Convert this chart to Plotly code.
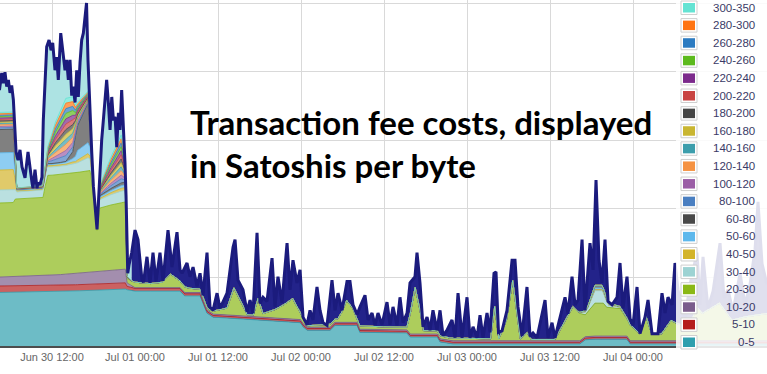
import plotly.graph_objects as go
import pandas as pd

# ---------------- data (hours since Jun 30 00:00, values in grid units) ----------------
labels = ["0-5", "5-10", "10-20", "20-30", "30-40", "40-50", "50-60", "60-80", "80-100",
          "100-120", "120-140", "140-160", "160-180", "180-200", "200-220", "220-240",
          "240-260", "260-280", "280-300", "300-350"]
colors = ["#2f9fae", "#b51d1d", "#7b5d8b", "#8ab816", "#9dd3d3", "#d3b42a", "#5db8ec", "#494949",
          "#4a7fc1", "#9b5ea6", "#f59242", "#3d9eac", "#c9b631", "#454545", "#c94442", "#7c2a8c",
          "#5cba1d", "#2c7bc1", "#ff7412", "#64e3d3"]

hours_base = [4.4, 12, 20, 22.6, 22.85, 24, 30.5, 31.2, 33.4, 34.4, 35.3, 42.1, 47.9, 48.3, 48.9,
              52.2, 52.9, 56.1, 56.5, 59.9, 63.3, 63.8, 67.7, 68.1, 69.5, 88.3, 89.1, 89.8, 95.1,
              95.6, 115.5]
fee_0_5 = [0.78, 0.79, 0.82, 0.83, 0.82, 0.80, 0.80, 0.73, 0.73, 0.48, 0.42, 0.38, 0.34, 0.28, 0.23,
           0.23, 0.30, 0.30, 0.20, 0.19, 0.19, 0.13, 0.13, 0.06, 0.03, 0.03, 0.09, 0.10, 0.10,
           0.03, 0.03]
fee_5_10 = [0.095, 0.09, 0.09, 0.09, 0.05, 0.04, 0.04, 0.03, 0.03, 0.025, 0.025, 0.025, 0.025, 0.025,
            0.025, 0.025, 0.025, 0.025, 0.025, 0.025, 0.025, 0.025, 0.025, 0.025, 0.025, 0.025,
            0.025, 0.025, 0.025, 0.025, 0.025]
fee_10_20 = [0.13, 0.15, 0.19, 0.20, 0.05, 0.01, 0.01, 0.02, 0.02, 0.02, 0.02, 0.02, 0.02, 0.02, 0.02,
             0.02, 0.02, 0.02, 0.02, 0.02, 0.02, 0.02, 0.02, 0.02, 0.02, 0.02, 0.02, 0.02, 0.02,
             0.02, 0.02]

hours_green = [4.4, 6.4, 6.7, 10.7, 11.3, 13.2, 16.0, 17.5, 17.95, 18.5, 18.9, 20.4, 22.6, 22.85,
               24.0, 26.2, 28.0, 29.1, 30.5, 32.0, 33.4, 34.8, 37.3, 38.3, 39.6, 40.2, 41.1, 41.8,
               42.5, 44.2, 45.5, 46.8, 47.9, 48.9, 53.3, 53.9, 54.6, 55.5, 56.1, 63.3, 63.8, 64.5,
               65.2, 65.7, 75.4, 76.0, 76.6, 77.7, 78.6, 79.7, 80.7, 81.3, 84.7, 87.3, 88.3, 89.1,
               90.5, 91.7, 92.2, 94.1, 95.1, 96.0, 97.0, 97.9, 98.7, 100.1, 101.5, 102.4, 104.2,
               105.2, 106.0, 108.5, 110.3, 112.2, 115.5]
fee_20_30 = [1.08, 1.08, 1.13, 1.14, 1.46, 1.46, 1.47, 1.48, 1.15, 0.60, 0.92, 0.95, 0.98, 0.06,
             0.08, 0.06, 0.08, 0.20, 0.10, 0.06, 0.05, 0.03, 0.10, 0.40, 0.15, 0.02, 0.02, 0.27,
             0.05, 0.12, 0.20, 0.30, 0.10, 0.02, 0.05, 0.15, 0.32, 0.20, 0.05, 0.04, 0.30, 0.68,
             0.35, 0.05, 0.03, 0.50, 0.03, 0.30, 0.88, 0.03, 0.12, 0.02, 0.02, 0.50, 0.40, 0.32,
             0.48, 0.48, 0.42, 0.40, 0.25, 0.20, 0.10, 0.35, 0.10, 0.10, 0.30, 0.25, 0.20,
             0.50, 0.40, 0.55, 0.30, 0.35, 0.40]

hours_mid = [4.4, 6.4, 6.9, 10.6, 11.0, 11.4, 12.5, 14.0, 15.0, 15.4, 15.7, 17.2, 17.5, 17.95,
             18.5, 18.9, 20.5, 22.0, 22.5, 22.85, 23.5,
             30, 40, 50, 60, 70, 80, 88, 89.5, 90.5, 91.5, 92.5, 96, 100, 108, 115.5]
fee_30_40 = [0.19, 0.19, 0.10, 0.10, 0.14, 0.12, 0.12, 0.12, 0.13, 0.13, 0.14, 0.19, 0.17, 0.08,
             0.05, 0.12, 0.15, 0.17, 0.17, 0.02, 0.0,
             0, 0, 0, 0, 0, 0, 0, 0.05, 0.18, 0.18, 0.03, 0, 0, 0, 0]
fee_40_50 = [0.29, 0.29, 0.02, 0.02, 0.02, 0.02, 0.02, 0.02, 0.03, 0.03, 0.04, 0.06, 0.04, 0.01,
             0.0, 0.02, 0.03, 0.04, 0.04, 0.0, 0.0,
             0, 0, 0, 0, 0, 0, 0, 0.01, 0.02, 0.02, 0.01, 0, 0, 0, 0]
fee_50_60 = [0.25, 0.25, 0.01, 0.01, 0.01, 0.02, 0.02, 0.03, 0.05, 0.08, 0.14, 0.16, 0.12, 0.02,
             0.01, 0.02, 0.03, 0.04, 0.04, 0.0, 0.0,
             0, 0, 0, 0, 0, 0, 0, 0.01, 0.02, 0.02, 0.01, 0, 0, 0, 0]
fee_60_80 = [0.34, 0.34, 0.01, 0.01, 0.01, 0.01, 0.01, 0.01, 0.10, 0.30, 0.36, 0.58, 0.28, 0.02,
             0.0, 0.02, 0.03, 0.04, 0.04, 0.0, 0.0,
             0, 0, 0, 0, 0, 0, 0, 0.01, 0.04, 0.04, 0.01, 0, 0, 0, 0]

hours_fan = [4.4, 6.4, 6.9, 10.6, 11.0, 11.4, 12.5, 14.0, 15.0, 15.4, 15.7, 17.2, 17.5, 17.95,
             18.5, 18.9, 20.5, 22.0, 22.5, 22.85, 23.5]
fee_80_100 = [0.025, 0.025, 0.002, 0.003, 0.010, 0.025, 0.055, 0.085, 0.070, 0.040, 0.030, 0.015, 0.010, 0.002, 0.0, 0.015, 0.040, 0.060, 0.035, 0.002, 0.0]
fee_100_120 = [0.020, 0.020, 0.002, 0.002, 0.008, 0.020, 0.045, 0.075, 0.065, 0.035, 0.030, 0.015, 0.008, 0.002, 0.0, 0.012, 0.035, 0.055, 0.030, 0.002, 0.0]
fee_120_140 = [0.025, 0.025, 0.002, 0.003, 0.010, 0.025, 0.060, 0.090, 0.075, 0.040, 0.030, 0.015, 0.010, 0.002, 0.0, 0.015, 0.045, 0.065, 0.035, 0.002, 0.0]
fee_140_160 = [0.018, 0.018, 0.001, 0.002, 0.007, 0.018, 0.045, 0.070, 0.060, 0.035, 0.025, 0.012, 0.008, 0.001, 0.0, 0.010, 0.035, 0.055, 0.030, 0.001, 0.0]
fee_160_180 = [0.020, 0.020, 0.002, 0.002, 0.008, 0.020, 0.050, 0.075, 0.065, 0.035, 0.030, 0.015, 0.008, 0.002, 0.0, 0.012, 0.035, 0.060, 0.035, 0.002, 0.0]
fee_180_200 = [0.018, 0.018, 0.001, 0.002, 0.007, 0.018, 0.045, 0.070, 0.060, 0.035, 0.025, 0.012, 0.008, 0.001, 0.0, 0.010, 0.035, 0.055, 0.030, 0.001, 0.0]
fee_200_220 = [0.022, 0.022, 0.002, 0.003, 0.009, 0.022, 0.050, 0.080, 0.070, 0.040, 0.030, 0.015, 0.008, 0.002, 0.0, 0.013, 0.040, 0.060, 0.035, 0.002, 0.0]
fee_220_240 = [0.020, 0.020, 0.002, 0.002, 0.008, 0.020, 0.050, 0.075, 0.065, 0.035, 0.030, 0.014, 0.008, 0.002, 0.0, 0.012, 0.035, 0.060, 0.030, 0.002, 0.0]
fee_240_260 = [0.022, 0.022, 0.002, 0.003, 0.009, 0.022, 0.055, 0.080, 0.070, 0.040, 0.030, 0.015, 0.008, 0.002, 0.0, 0.013, 0.040, 0.060, 0.035, 0.002, 0.0]
fee_260_280 = [0.018, 0.018, 0.001, 0.002, 0.007, 0.018, 0.045, 0.070, 0.060, 0.035, 0.025, 0.012, 0.008, 0.001, 0.0, 0.010, 0.035, 0.055, 0.030, 0.001, 0.0]
fee_280_300 = [0.022, 0.022, 0.002, 0.003, 0.009, 0.022, 0.055, 0.080, 0.070, 0.040, 0.030, 0.015, 0.008, 0.002, 0.0, 0.013, 0.040, 0.060, 0.035, 0.002, 0.0]
fee_300_350 = [0.020, 0.020, 0.002, 0.002, 0.008, 0.020, 0.045, 0.070, 0.070, 0.035, 0.030, 0.015, 0.008, 0.002, 0.0, 0.015, 0.040, 0.055, 0.030, 0.002, 0.0]

hours_total = [4.4, 4.73, 4.96, 5.2, 5.45, 5.69, 5.93, 6.17, 6.41, 6.65, 6.8, 7.08, 7.37, 7.66, 8.1,
               8.53, 8.82, 9.11, 9.25, 9.54, 9.83, 9.98, 10.27, 10.55, 10.74, 10.99, 11.23, 11.57,
               11.86, 12.1, 12.43, 12.68, 12.91, 13.26, 13.55, 13.73, 13.88, 14.12, 14.36, 14.6,
               14.85, 15.08, 15.33, 15.57, 15.8, 16.05, 16.29, 16.53, 16.77, 16.99, 17.2, 17.42,
               17.5, 17.75, 17.98, 18.22, 18.51, 18.73, 18.94, 19.18, 19.42, 19.66, 19.9, 20.15,
               20.39, 20.64, 20.88, 21.12, 21.36, 21.6, 21.83, 22.07, 22.31, 22.55, 22.7, 22.84,
               22.95, 23.13, 23.52, 24.0, 24.43, 24.72, 25.01, 25.23, 25.73, 26.17, 26.6, 27.04,
               27.61, 28.05, 28.77, 29.35, 30.07, 30.51, 30.8, 31.52, 31.95, 32.39, 32.96, 33.4,
               33.83, 34.41, 34.84, 35.28, 35.86, 36.29, 37.3, 38.17, 38.46, 38.89, 39.61, 40.19,
               40.63, 41.06, 41.64, 42.07, 42.51, 43.08, 43.81, 44.24, 44.67, 45.25, 45.98, 46.41,
               46.84, 47.42, 47.86, 48.29, 48.87, 49.3, 49.73, 50.31, 50.75, 51.18, 51.76, 52.48,
               52.92, 53.35, 53.93, 54.65, 55.08, 55.52, 56.1, 56.53, 57.25, 57.69, 58.27, 58.7,
               59.13, 59.71, 60.43, 60.87, 61.3, 61.88, 62.31, 62.75, 63.33, 63.76, 64.48, 64.77,
               65.2, 65.64, 66.22, 66.65, 67.08, 67.66, 68.1, 68.53, 69.11, 69.83, 70.27, 70.7,
               71.28, 72.0, 72.43, 72.87, 73.45, 73.88, 74.31, 74.89, 75.33, 75.9, 76.19, 76.55,
               77.06, 77.78, 78.51, 78.94, 79.37, 79.95, 80.67, 81.11, 81.54, 82.12, 82.55, 83.28,
               83.71, 84.29, 84.72, 85.45, 86.17, 86.6, 87.18, 87.62, 88.05, 88.63, 89.06, 89.78,
               90.22, 90.65, 91.08, 91.52, 91.95, 92.39, 92.96, 93.69, 94.12, 94.55, 95.13, 95.57,
               96.0, 96.58, 97.01, 97.73, 98.17, 98.75, 99.18, 99.61, 100.19, 100.63, 101.06,
               101.64, 102.07, 102.5, 103.52, 104.24, 105.25, 105.69, 106.12, 106.84, 107.57,
               108.58, 109.16, 109.73, 110.46, 111.47, 112.19, 112.92, 113.64, 114.07, 114.65,
               115.37]
total = [3.73, 3.98, 3.83, 3.99, 3.78, 3.88, 3.69, 3.80, 3.59, 3.15, 2.83, 2.71, 2.86, 2.61, 2.45,
         2.83, 2.57, 2.38, 2.30, 2.57, 2.30, 2.38, 2.35, 2.46, 3.29, 3.88, 4.36, 4.46,
         4.31, 4.42, 4.02, 4.21, 3.88, 4.56, 4.31, 4.21, 4.02, 4.17, 3.88, 4.17,
         3.65, 3.78, 3.55, 4.02, 3.63, 4.13, 4.46, 4.56, 4.75, 5.00, 4.17, 3.59,
         3.29, 2.81, 2.33, 2.02, 1.70, 2.13, 2.57, 3.00, 3.29, 3.59, 3.88, 3.54,
         3.15, 3.63, 3.29, 3.34, 2.90, 3.40, 3.15, 3.73, 3.29, 2.67, 2.20, 1.50,
         1.06, 1.18, 1.36, 1.69, 1.55, 1.25, 0.96, 0.93, 1.30, 0.92, 1.36, 0.94,
         1.36, 0.95, 1.69, 1.15, 1.66, 1.11, 1.06, 1.21, 1.01, 1.15, 0.87, 1.06,
         0.74, 1.36, 0.57, 0.52, 0.77, 0.55, 0.77, 1.44, 1.55, 0.96, 0.82, 0.50,
         0.67, 0.48, 1.65, 0.62, 0.71, 0.65, 1.28, 0.57, 1.01, 0.63, 1.50, 0.82,
         1.25, 0.92, 1.11, 0.42, 0.31, 0.52, 0.38, 0.86, 0.52, 0.34, 0.30, 0.96,
         0.52, 0.77, 0.52, 0.94, 0.94, 0.60, 0.46, 0.57, 0.74, 0.38, 0.48, 0.30,
         0.48, 0.31, 0.64, 0.31, 0.57, 0.30, 0.71, 0.34, 0.48, 0.92, 1.01, 1.36,
         0.92, 0.28, 0.42, 0.23, 0.52, 0.23, 0.52, 0.15, 0.23, 0.38, 0.12, 0.77,
         0.12, 0.71, 0.12, 0.28, 0.12, 0.45, 0.12, 0.48, 0.20, 1.06, 1.08, 0.20,
         0.22, 0.52, 1.25, 1.25, 0.57, 0.15, 0.86, 0.14, 0.19, 0.12, 0.34, 0.67,
         0.12, 0.34, 0.12, 0.42, 0.71, 0.47, 1.01, 0.60, 0.67, 1.55, 0.52, 1.50,
         1.11, 2.42, 1.25, 0.92, 1.55, 0.65, 0.60, 0.71, 1.21, 0.55, 1.01, 0.40,
         0.30, 0.86, 0.18, 0.42, 0.67, 0.18, 0.18, 0.18, 0.77, 0.48, 0.71,
         0.60, 1.21, 0.82, 0.40, 0.90, 1.36, 0.60, 1.30, 0.55, 0.80,
         1.50, 0.70, 0.82, 0.50, 1.06, 0.60, 0.90, 1.40, 2.10, 1.20,
         0.90]

# the hour where the high-fee humps of Jun 30 end and the low-fee period starts
hump_end_hour = 23.52

tick_hours = [12, 24, 36, 48, 60, 72, 84, 96]

# ---------------- figure ----------------
BASE = pd.Timestamp("2016-06-30 00:00")


def to_time(hours):
    return [BASE + pd.Timedelta(hours=h) for h in hours]


def tint(hex_color, a):
    """opaque colour equal to hex_color drawn with opacity a over white"""
    h = hex_color.lstrip("#")
    rgb = [int(h[k:k + 2], 16) for k in (0, 2, 4)]
    return "rgb(%d,%d,%d)" % tuple(round(c * a + 255 * (1 - a)) for c in rgb)


series = [
    (hours_base, fee_0_5), (hours_base, fee_5_10), (hours_base, fee_10_20),
    (hours_green, fee_20_30),
    (hours_mid, fee_30_40), (hours_mid, fee_40_50), (hours_mid, fee_50_60), (hours_mid, fee_60_80),
    (hours_fan, fee_80_100), (hours_fan, fee_100_120), (hours_fan, fee_120_140),
    (hours_fan, fee_140_160), (hours_fan, fee_160_180), (hours_fan, fee_180_200),
    (hours_fan, fee_200_220), (hours_fan, fee_220_240), (hours_fan, fee_240_260),
    (hours_fan, fee_260_280), (hours_fan, fee_280_300), (hours_fan, fee_300_350),
]

NAVY = "#1b1b7d"
split = hours_total.index(hump_end_hour)

fig = go.Figure()

# area under the total line: light cyan in the Jun 30 humps, dense navy afterwards
fig.add_trace(go.Scatter(x=to_time(hours_total[:split + 1]), y=total[:split + 1], mode="lines",
                         fill="tozeroy", fillcolor="#ade3e3", line=dict(width=0),
                         showlegend=False, hoverinfo="skip"))
fig.add_trace(go.Scatter(x=to_time(hours_total[split:]), y=total[split:], mode="lines",
                         fill="tozeroy", fillcolor="#23238a", line=dict(width=0),
                         showlegend=False, hoverinfo="skip"))

for i, ((hx, vals), name, col) in enumerate(zip(series, labels, colors)):
    kw = dict(stackgaps="interpolate") if i == 0 else {}
    fig.add_trace(go.Scatter(x=to_time(hx), y=vals, name=name, mode="lines",
                             stackgroup="fees", fillcolor=tint(col, 0.70),
                             line=dict(color=col, width=0.8), showlegend=False, **kw))

fig.add_trace(go.Scatter(x=to_time(hours_total), y=total, mode="lines",
                         line=dict(color=NAVY, width=3), showlegend=False, name="total"))

W, H = 767, 374
MB = 28
PH = H - MB


def py2paper(py):
    return (PH - py) / PH


shapes = [dict(type="rect", xref="paper", yref="paper", x0=676 / W, x1=1.0,
               y0=py2paper(352), y1=1.0, fillcolor="rgba(255,255,255,0.86)",
               line=dict(width=0), layer="above")]
annotations = []
top_c, bot_c = 7.5, 342.0
step = (bot_c - top_c) / (len(labels) - 1)
for i, (name, col) in enumerate(zip(labels, colors)):
    cy = bot_c - step * i
    shapes.append(dict(type="rect", xref="paper", yref="paper", x0=681 / W, x1=697 / W,
                       y0=py2paper(cy + 7), y1=py2paper(cy - 6.5), fillcolor="#ffffff",
                       line=dict(color="#cfcfcf", width=1), layer="above"))
    shapes.append(dict(type="rect", xref="paper", yref="paper", x0=683 / W, x1=695 / W,
                       y0=py2paper(cy + 5), y1=py2paper(cy - 4.5), fillcolor=col,
                       line=dict(width=0), layer="above"))
    annotations.append(dict(text=name, xref="paper", yref="paper", x=757 / W, y=py2paper(cy),
                            xanchor="right", yanchor="middle", showarrow=False,
                            font=dict(family="Liberation Sans, Arial, sans-serif", size=11.5,
                                      color="#3a3a66")))

annotations.append(dict(text="<b>Transaction fee costs, displayed</b><br><b>in Satoshis per byte</b>",
                        xref="paper", yref="paper", x=188 / W, y=py2paper(143),
                        xanchor="left", yanchor="middle", align="left", showarrow=False,
                        font=dict(family="Lato, Calibri, sans-serif", size=33, color="#000000")))

fig.update_layout(
    width=W, height=H, margin=dict(l=0, r=0, t=0, b=MB),
    paper_bgcolor="#ffffff", plot_bgcolor="#ffffff",
    shapes=shapes, annotations=annotations, showlegend=False,
    xaxis=dict(type="date", range=[BASE + pd.Timedelta(hours=4.48), BASE + pd.Timedelta(hours=115.37)],
               tickvals=to_time(tick_hours), tickformat="%b %d %H:%M",
               showgrid=True, gridcolor="#d9d9d9", gridwidth=1,
               showline=True, linecolor="#4d4d4d", linewidth=2, ticks="",
               tickfont=dict(family="Liberation Sans, Arial, sans-serif", size=11, color="#666666"),
               zeroline=False, fixedrange=True),
    yaxis=dict(range=[0, PH / 68.6], dtick=1, showticklabels=False, showgrid=True,
               gridcolor="#d9d9d9", gridwidth=1, zeroline=False, showline=False, ticks="",
               fixedrange=True),
)

fig.write_html("out.html", config={"displayModeBar": False},
               post_script="document.body.style.margin='0px';")
